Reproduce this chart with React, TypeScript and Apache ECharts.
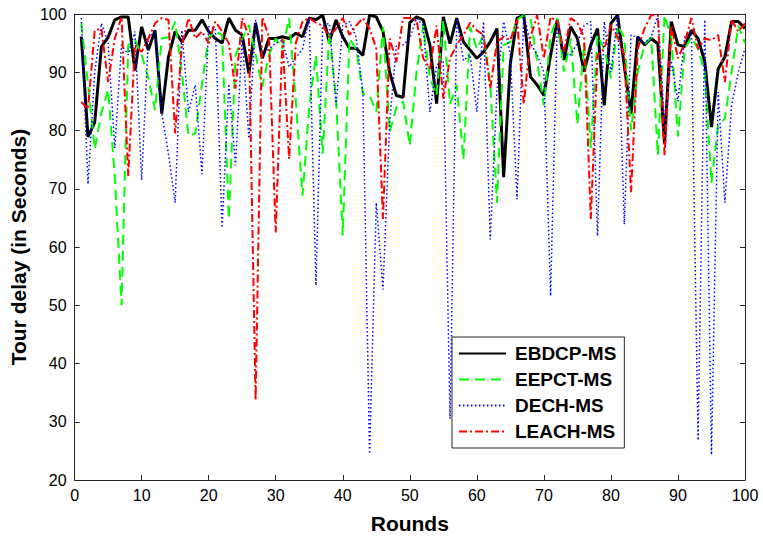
import React, { useEffect, useRef } from "react";
import * as echarts from "echarts";

const rounds: number[] = Array.from({ length: 100 }, (_, i) => i + 1);

const seriesNames = ["EBDCP-MS", "EEPCT-MS", "DECH-MS", "LEACH-MS"];

const ebdcp: number[] = [
  96.1, 78.9, 81.4, 94.4, 96, 99, 99.5, 99.5, 90.3, 97.8,
  93.8, 97.2, 82.9, 92.6, 97, 95.2, 97.2, 97.2, 99, 97,
  95.8, 95, 99.3, 97.2, 96.4, 89.8, 98.4, 92.4, 95.8, 95.8,
  96.1, 95.8, 96.7, 96.1, 99.3, 99, 99.8, 95.2, 99, 96.1,
  94.1, 94.1, 92.9, 99.8, 99.5, 97, 90, 86, 85.7, 98.5,
  99.5, 99, 94.7, 84.6, 99.5, 94.9, 99.3, 95.2, 93.8, 92.4,
  93.5, 95.2, 97.5, 72, 91.5, 99.3, 99.8, 89.2, 87.8, 86,
  92.9, 99, 92.1, 97.8, 95.8, 90.1, 94.7, 97.5, 84.3, 98.4,
  99.8, 91, 82.9, 96.1, 94.7, 95.8, 94.9, 77.7, 98.7, 94.7,
  94.4, 97.2, 95.8, 91.8, 80.6, 90.6, 92.6, 98.7, 98.7, 97.5,
];

const eepct: number[] = [
  98.4, 88, 76.8, 83, 87, 72, 50, 94.7, 95.5, 93,
  89, 83.5, 95.8, 96, 98.7, 90, 79, 79.5, 88, 96,
  97, 96.4, 64.8, 92.9, 95.8, 98.1, 93, 87.5, 93, 95.8,
  94, 99.3, 85, 68.8, 84, 92.9, 76, 97, 85.5, 62,
  95.8, 94, 86.3, 86, 83.2, 97.8, 79.7, 84, 85, 77.4,
  90, 98, 89, 86, 99, 84.5, 87.8, 75, 97.8, 94,
  96.4, 88, 67.6, 94.7, 95.2, 99, 99.8, 99.3, 91.8, 84.3,
  96.4, 99.3, 90.1, 95.8, 81, 95, 77, 96.4, 94, 89,
  98, 96, 80, 90, 94.7, 96, 75.7, 99.8, 96, 79,
  94, 96, 94, 90, 71, 81, 82, 90, 98, 95,
];

const dech: number[] = [
  99.3, 70.8, 90, 98.4, 95, 77, 94.7, 93, 97, 71.5,
  95.8, 97, 83, 76, 67.6, 97.2, 83.2, 87.8, 72.5, 97.8,
  97.5, 63.3, 88, 74, 96, 78.6, 99, 93, 94, 95,
  95.5, 90.9, 92.5, 94, 99.3, 53.4, 98, 98.4, 84.3, 98,
  98.7, 96, 86.6, 24.5, 67.6, 52.7, 81.4, 94.7, 94.7, 95.8,
  99.3, 98, 83.2, 91.2, 92, 30.5, 99.3, 92, 93, 83.2,
  98.7, 61.3, 87, 98.7, 93, 68.2, 99.8, 95, 93, 90,
  51.6, 98.7, 93, 93, 95, 98, 98.7, 61.9, 98.7, 90,
  99.8, 63.9, 96.4, 96, 95, 96, 99.8, 81.4, 92, 85,
  96, 97, 26.8, 99, 24.3, 86.6, 67.6, 84.3, 90, 94.1,
];

const leach: number[] = [
  84.9, 83.7, 97.2, 97.5, 88.3, 95.8, 99.5, 72.2, 94.7, 93.5,
  95.8, 98.4, 99.3, 99, 79.5, 94.7, 99.3, 95.8, 97, 95,
  98.7, 97, 95, 87.2, 99.3, 96.1, 33.7, 99.5, 96, 62.5,
  95.8, 75.1, 95, 98.7, 99.3, 98.5, 98, 96.1, 97.5, 99.3,
  96.4, 98, 99.3, 97.5, 94.1, 64.8, 95.8, 91.8, 99.3, 99.3,
  99, 92.4, 90.6, 98, 85.5, 92.4, 94.7, 96.4, 98.5, 97.2,
  96.4, 87.2, 95.2, 96.1, 95.5, 99, 84.5, 96, 99.8, 92.4,
  99.5, 98.7, 93.5, 99.3, 98.5, 96, 64.8, 93, 94, 98.1,
  96, 93, 69.4, 94, 97.5, 99.8, 99.8, 75.7, 98, 92.4,
  95, 99.3, 94, 95.8, 95.5, 96.4, 88.3, 99, 97, 98.4,
];

const xTicks = { min: 0, max: 100, interval: 10 };
const yTicks = { min: 20, max: 100, interval: 10 };

const FONT = "'Liberation Sans', Arial, Helvetica, sans-serif";
const AXIS_COLOR = "#262626";

export default function App() {
  const ref = useRef<HTMLDivElement>(null);

  useEffect(() => {
    if (!ref.current) return;
    const chart = echarts.init(ref.current, undefined, { renderer: "svg" });

    const toData = (vals: number[]) => rounds.map((r, i) => [r, vals[i]]);

    const axisCommon = {
      type: "value" as const,
      axisLine: { show: true, onZero: false, lineStyle: { color: AXIS_COLOR, width: 1 } },
      axisTick: { show: true, inside: true, length: 5, lineStyle: { color: AXIS_COLOR } },
      splitLine: { show: false },
    };

    chart.setOption({
      animation: false,
      backgroundColor: "#ffffff",
      grid: { left: 71, right: 18, top: 14, bottom: 60, containLabel: false },
      xAxis: [
        {
          ...axisCommon,
          ...xTicks,
          position: "bottom",
          name: "Rounds",
          nameLocation: "middle",
          nameGap: 33,
          nameTextStyle: { fontFamily: FONT, fontWeight: "bold", fontSize: 21, color: "#000" },
          axisLabel: { fontFamily: FONT, fontSize: 16, color: "#000", margin: 7 },
        },
        {
          ...axisCommon,
          ...xTicks,
          position: "top",
          axisLabel: { show: false },
        },
      ],
      yAxis: [
        {
          ...axisCommon,
          ...yTicks,
          position: "left",
          name: "Tour delay (in Seconds)",
          nameLocation: "middle",
          nameGap: 44,
          nameTextStyle: { fontFamily: FONT, fontWeight: "bold", fontSize: 21, color: "#000" },
          axisLabel: { fontFamily: FONT, fontSize: 16, color: "#000", margin: 8 },
        },
        {
          ...axisCommon,
          ...yTicks,
          position: "right",
          axisLabel: { show: false },
        },
      ],
      legend: {
        orient: "vertical",
        left: 452,
        top: 337,
        data: seriesNames,
        itemWidth: 47,
        itemHeight: 14,
        itemGap: 7,
        padding: [7, 8, 7, 6],
        backgroundColor: "#ffffff",
        borderColor: AXIS_COLOR,
        borderWidth: 1,
        itemStyle: { opacity: 0 },
        textStyle: {
          fontFamily: FONT,
          fontWeight: "bold",
          fontSize: 19,
          lineHeight: 19,
          color: "#000",
          padding: [0, 0, 0, 4],
        },
      },
      series: [
        {
          name: seriesNames[0],
          type: "line",
          data: toData(ebdcp),
          symbol: "none",
          showSymbol: false,
          lineStyle: { color: "#000000", width: 3, type: "solid" },
          itemStyle: { color: "#000000" },
        },
        {
          name: seriesNames[1],
          type: "line",
          data: toData(eepct),
          symbol: "none",
          showSymbol: false,
          lineStyle: { color: "#00ff00", width: 2, type: [10, 6] },
          itemStyle: { color: "#00ff00" },
        },
        {
          name: seriesNames[2],
          type: "line",
          data: toData(dech),
          symbol: "none",
          showSymbol: false,
          lineStyle: { color: "#0000ff", width: 1.5, type: [1.5, 2.5] },
          itemStyle: { color: "#0000ff" },
        },
        {
          name: seriesNames[3],
          type: "line",
          data: toData(leach),
          symbol: "none",
          showSymbol: false,
          lineStyle: { color: "#ff0000", width: 2, type: [8, 3, 2, 3] },
          itemStyle: { color: "#ff0000" },
        },
      ],
    });

    return () => chart.dispose();
  }, []);

  return (
    <div
      ref={ref}
      style={{ position: "fixed", left: 0, top: 0, width: 763, height: 540, background: "#fff" }}
    />
  );
}
